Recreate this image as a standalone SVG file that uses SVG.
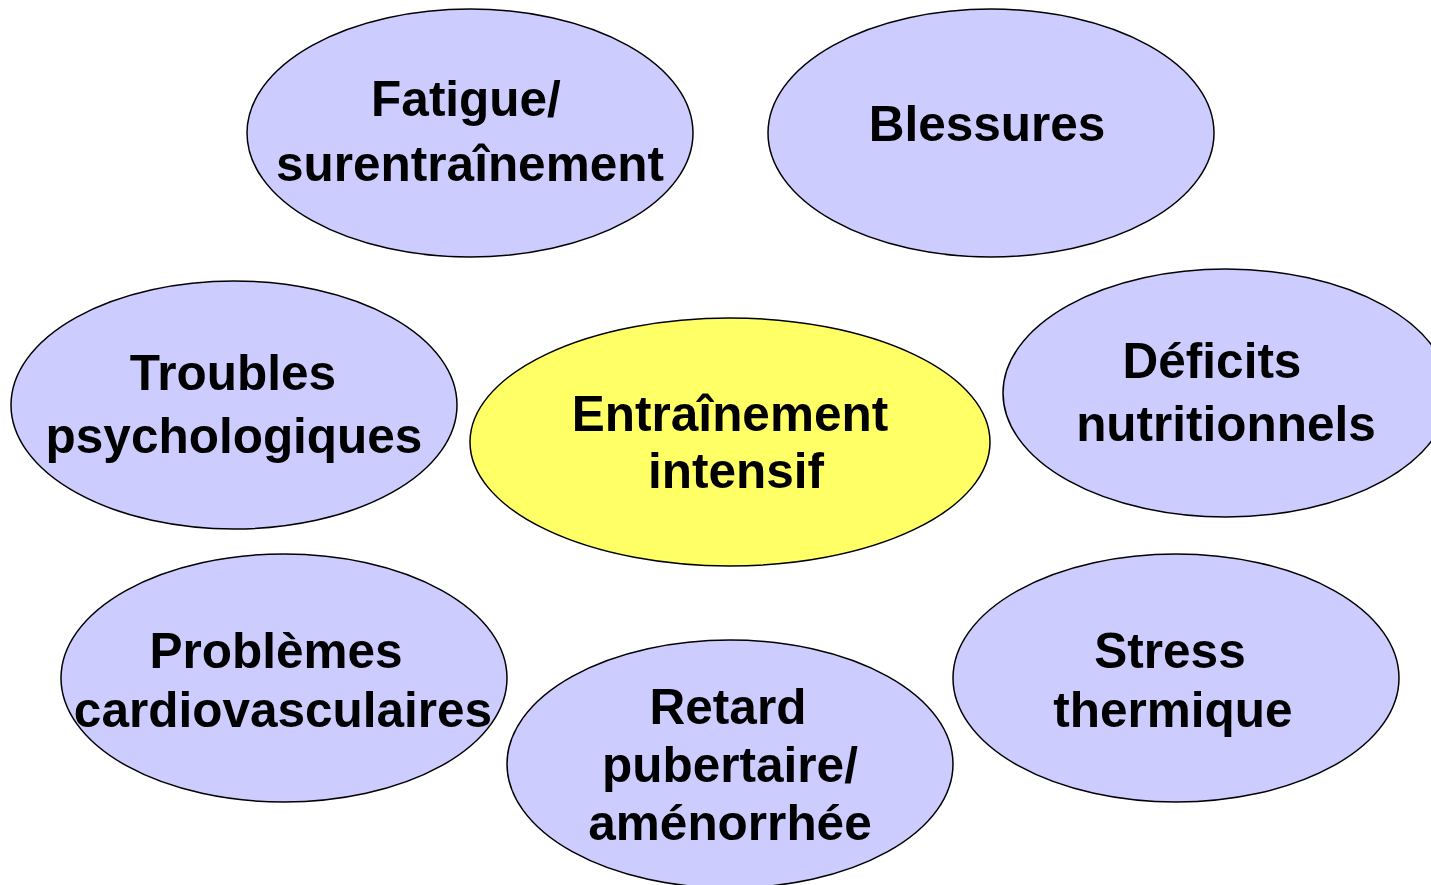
<svg xmlns="http://www.w3.org/2000/svg" width="1431" height="885" viewBox="0 0 1431 885">
<style>
.n{fill:#CCCCFF;stroke:#000;stroke-width:1.5}
.c{fill:#FFFF66;stroke:#000;stroke-width:1.5}
text{font-family:"Liberation Sans",Arial,sans-serif;font-weight:bold;font-size:49.5px;fill:#000;text-anchor:middle}
</style>
<rect width="1431" height="885" fill="#fff"/>
<g id="connectors"/>
<g id="fatigue"><ellipse class="n" cx="470" cy="133" rx="223" ry="124"/><text x="466" y="116">Fatigue/</text><text x="470" y="181">surentraînement</text></g>
<g id="blessures"><ellipse class="n" cx="991" cy="133" rx="223" ry="124"/><text x="987" y="141">Blessures</text></g>
<g id="troubles"><ellipse class="n" cx="234" cy="405" rx="223" ry="124"/><text x="233" y="390">Troubles</text><text x="234" y="453">psychologiques</text></g>
<g id="entrainement"><ellipse class="c" cx="730" cy="442" rx="260" ry="124"/><text x="730" y="431">Entraînement</text><text x="736" y="488">intensif</text></g>
<g id="deficits"><ellipse class="n" cx="1226" cy="393" rx="223" ry="124"/><text x="1212" y="378">Déficits</text><text x="1226" y="441">nutritionnels</text></g>
<g id="problemes"><ellipse class="n" cx="284" cy="678" rx="223" ry="124"/><text x="276" y="668">Problèmes</text><text x="283" y="727">cardiovasculaires</text></g>
<g id="retard"><ellipse class="n" cx="730" cy="764" rx="223" ry="124"/><text x="728" y="724">Retard</text><text x="730" y="782">pubertaire/</text><text x="730" y="840">aménorrhée</text></g>
<g id="stress"><ellipse class="n" cx="1176" cy="678" rx="223" ry="124"/><text x="1170" y="668">Stress</text><text x="1173" y="727">thermique</text></g>
</svg>
